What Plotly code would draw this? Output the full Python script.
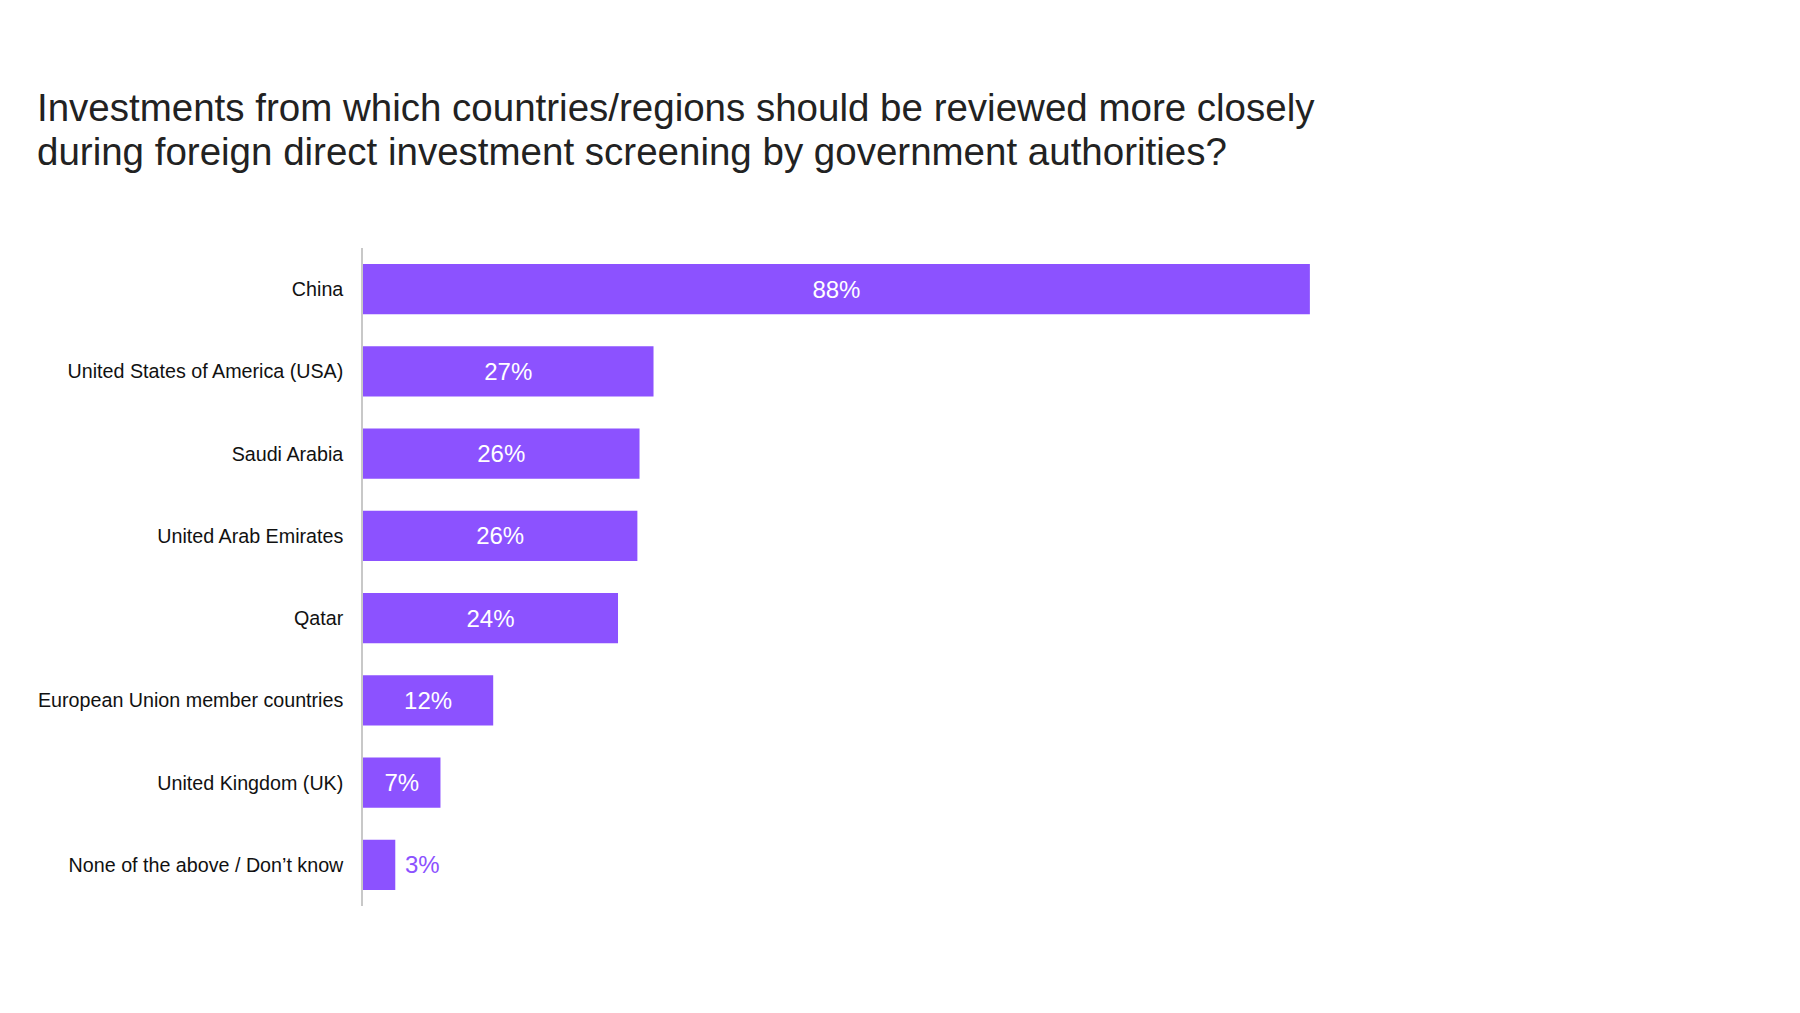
import plotly.graph_objects as go

# Data (share of respondents in %)
categories = [
    "China",
    "United States of America (USA)",
    "Saudi Arabia",
    "United Arab Emirates",
    "Qatar",
    "European Union member countries",
    "United Kingdom (UK)",
    "None of the above / Don\u2019t know",
]
values = [88.0, 27.0, 25.7, 25.5, 23.7, 12.1, 7.2, 3.0]
labels = ["88%", "27%", "26%", "26%", "24%", "12%", "7%", "\u00a03%"]

title_lines = [
    "Investments from which countries/regions should be reviewed more closely",
    "during foreign direct investment screening by government authorities?",
]

PURPLE = "#8C52FF"
FONT = "Liberation Sans"
W, H = 1800, 1013
L, R, T, B = 355, 369, 240, 115

positions = ["inside"] * (len(values) - 1) + ["outside"]
text_colors = ["white"] * (len(values) - 1) + [PURPLE]

fig = go.Figure(
    go.Bar(
        x=values,
        y=categories,
        orientation="h",
        text=labels,
        textposition=positions,
        insidetextanchor="middle",
        textfont=dict(family=FONT, size=24, color=text_colors),
        cliponaxis=False,
        marker=dict(color=PURPLE, line=dict(width=0)),
        hoverinfo="skip",
    )
)

# title as two annotations so the line spacing can follow the original
plot_h = H - T - B
plot_w = W - L - R
for line, y_px in zip(title_lines, [100, 143.5]):
    fig.add_annotation(
        text=line,
        xref="paper", yref="paper",
        x=(27 - L) / plot_w, y=(H - B - y_px) / plot_h,
        xanchor="left", yanchor="middle",
        showarrow=False,
        font=dict(family=FONT, size=38.5, color="#222222"),
    )

fig.update_layout(
    width=W,
    height=H,
    paper_bgcolor="white",
    plot_bgcolor="white",
    margin=dict(l=L, r=R, t=T, b=B),
    bargap=0.39,
    showlegend=False,
    font=dict(family=FONT, color="#111111"),
)

fig.update_xaxes(
    range=[0, 100],
    visible=False,
    showgrid=False,
    zeroline=False,
)

fig.update_yaxes(
    autorange="reversed",
    showgrid=False,
    zeroline=False,
    showline=True,
    linecolor="#c8c8c8",
    linewidth=1.5,
    ticks="",
    ticklabelstandoff=14,
    tickfont=dict(family=FONT, size=19.7, color="#111111"),
)

fig.write_html("out.html")
